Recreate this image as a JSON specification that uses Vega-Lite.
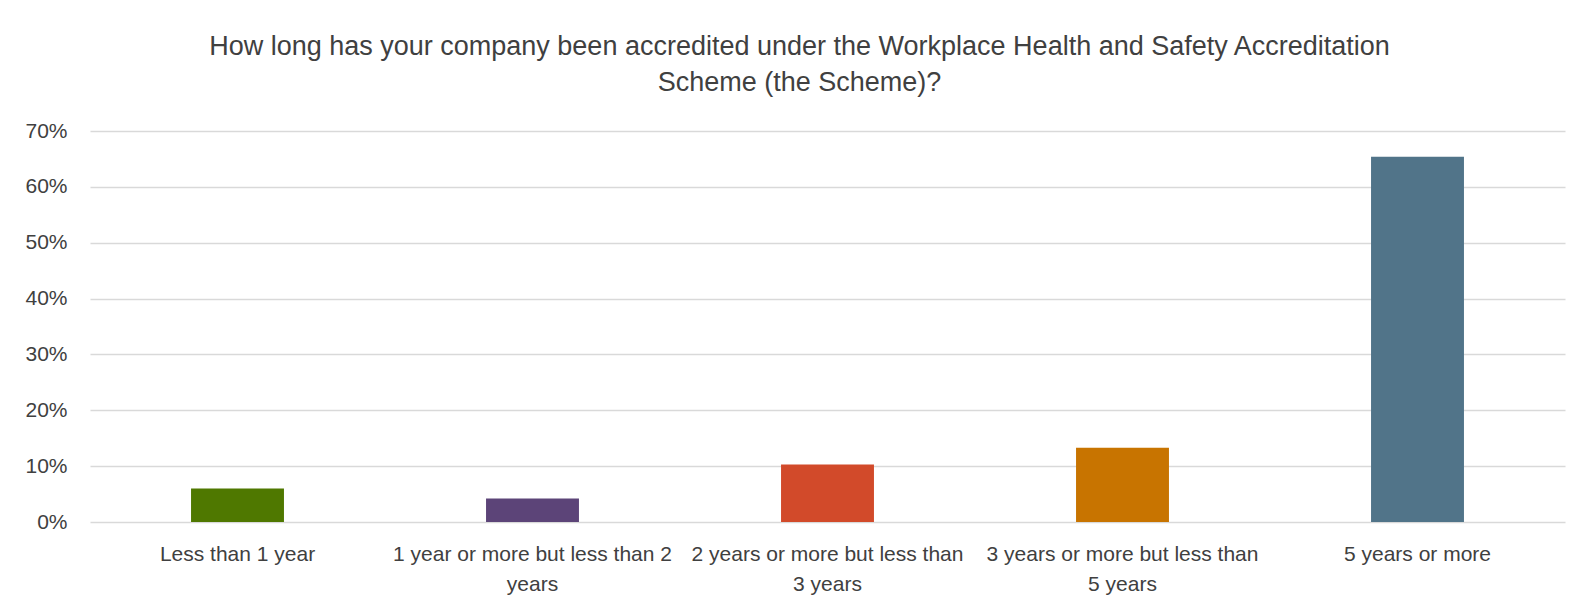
{
  "$schema": "https://vega.github.io/schema/vega-lite/v6.json",
  "width": 1475,
  "height": 391,
  "autosize": "none",
  "padding": {"left": 90, "top": 131, "right": 6, "bottom": 88},
  "background": "white",
  "config": {
    "view": {"stroke": null},
    "font": "Liberation Sans"
  },
  "title": {
    "text": ["How long has your company been accredited under the Workplace Health and Safety Accreditation", "Scheme (the Scheme)?"],
    "fontSize": 27,
    "fontWeight": "normal",
    "font": "Liberation Sans",
    "color": "#404040",
    "lineHeight": 36,
    "anchor": "middle",
    "frame": "group",
    "offset": 23,
    "dx": -28
  },
  "data": {
    "values": [
      {"category": "Less than 1 year", "share": 0.060},
      {"category": "1 year or more but less than 2 years", "share": 0.042},
      {"category": "2 years or more but less than 3 years", "share": 0.103},
      {"category": "3 years or more but less than 5 years", "share": 0.133},
      {"category": "5 years or more", "share": 0.654}
    ]
  },
  "mark": {"type": "bar"},
  "encoding": {
    "x": {
      "field": "category",
      "type": "nominal",
      "sort": null,
      "scale": {"paddingInner": 0.685, "paddingOuter": 0.3425},
      "axis": {
        "title": null,
        "labelAngle": 0,
        "domain": false,
        "ticks": false,
        "labelPadding": 21,
        "labelFontSize": 21,
        "labelColor": "#404040",
        "labelLimit": 0,
        "labelOverlap": false,
        "labelLineHeight": 30,
        "labelBaseline": "top",
        "labelExpr": "datum.label == '1 year or more but less than 2 years' ? ['1 year or more but less than 2', 'years'] : datum.label == '2 years or more but less than 3 years' ? ['2 years or more but less than', '3 years'] : datum.label == '3 years or more but less than 5 years' ? ['3 years or more but less than', '5 years'] : datum.label"
      }
    },
    "y": {
      "field": "share",
      "type": "quantitative",
      "scale": {"domain": [0, 0.7]},
      "axis": {
        "title": null,
        "format": ".0%",
        "values": [0, 0.1, 0.2, 0.3, 0.4, 0.5, 0.6, 0.7],
        "domain": false,
        "ticks": false,
        "labelPadding": 23,
        "labelFontSize": 21,
        "labelColor": "#404040",
        "gridColor": "#d9d9d9",
        "gridWidth": 1.5
      }
    },
    "color": {
      "field": "category",
      "type": "nominal",
      "sort": null,
      "legend": null,
      "scale": {
        "domain": ["Less than 1 year", "1 year or more but less than 2 years", "2 years or more but less than 3 years", "3 years or more but less than 5 years", "5 years or more"],
        "range": ["#4f7800", "#5c4478", "#d24a2a", "#c87400", "#517489"]
      }
    }
  }
}
